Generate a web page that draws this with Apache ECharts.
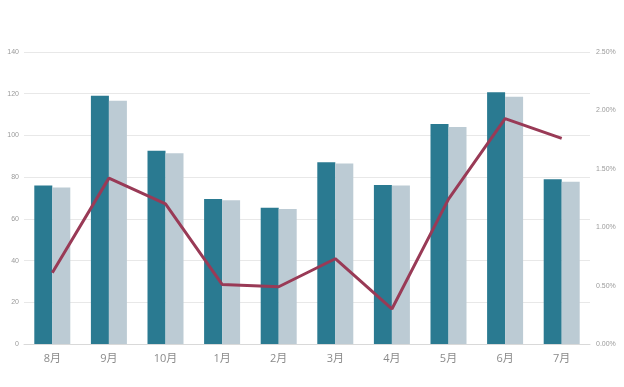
<!DOCTYPE html>
<html><head><meta charset="utf-8">
<script src="https://cdn.jsdelivr.net/npm/echarts@6/dist/echarts.min.js"></script>
<style>html,body{margin:0;padding:0;background:#fff}#c{width:624px;height:387px}</style>
</head><body><div id="c"></div>
<script>
const categories = ['8月','9月','10月','1月','2月','3月','4月','5月','6月','7月'];
const seriesA = [76, 119, 92.7, 69.5, 65.3, 87.2, 76.2, 105.5, 120.7, 79];
const seriesB = [75, 116.6, 91.4, 68.9, 64.7, 86.6, 76, 104, 118.6, 77.8];
const ratio = [0.61, 1.42, 1.20, 0.51, 0.49, 0.73, 0.30, 1.24, 1.93, 1.76];
const leftTicks = [0, 140, 20];
const rightTicks = [0, 2.5, 0.5];

const chart = echarts.init(document.getElementById('c'), null, {renderer:'canvas'});
chart.setOption({
  animation:false,
  grid:{left:24, right:34, top:52, bottom:43, containLabel:false, outerBoundsMode:'none'},
  xAxis:{type:'category', data:categories,
    axisLine:{lineStyle:{color:'#d9d9d9'}}, axisTick:{show:false},
    axisLabel:{color:'#8a8a8a', fontSize:11, margin:9, fontFamily:'Open Sans, Noto Sans CJK SC'}},
  yAxis:[
    {type:'value', min:leftTicks[0], max:leftTicks[1], interval:leftTicks[2],
     name:'金额（亿元）', nameLocation:'middle', nameGap:19, nameRotate:90,
     nameTextStyle:{color:'#e2e2e2', fontSize:7},
     axisLine:{show:false}, axisTick:{show:false},
     axisLabel:{color:'#9a9a9a', fontSize:7, margin:5},
     splitLine:{lineStyle:{color:'#e8e8e8'}}},
    {type:'value', min:rightTicks[0], max:rightTicks[1], interval:rightTicks[2],
     axisLine:{show:false}, axisTick:{show:false},
     axisLabel:{color:'#9a9a9a', fontSize:7, margin:6, formatter:v=>v.toFixed(2)+'%'},
     splitLine:{show:false}}
  ],
  series:[
    {type:'bar', data:seriesA, barWidth:18, barGap:'0%', itemStyle:{color:'#2a7a91'}},
    {type:'bar', data:seriesB, barWidth:18, barGap:'0%', itemStyle:{color:'#bccbd4'}},
    {type:'line', yAxisIndex:1, data:ratio, symbol:'none',
     lineStyle:{color:'#993a56', width:3}, z:5}
  ]
});
</script></body></html>
